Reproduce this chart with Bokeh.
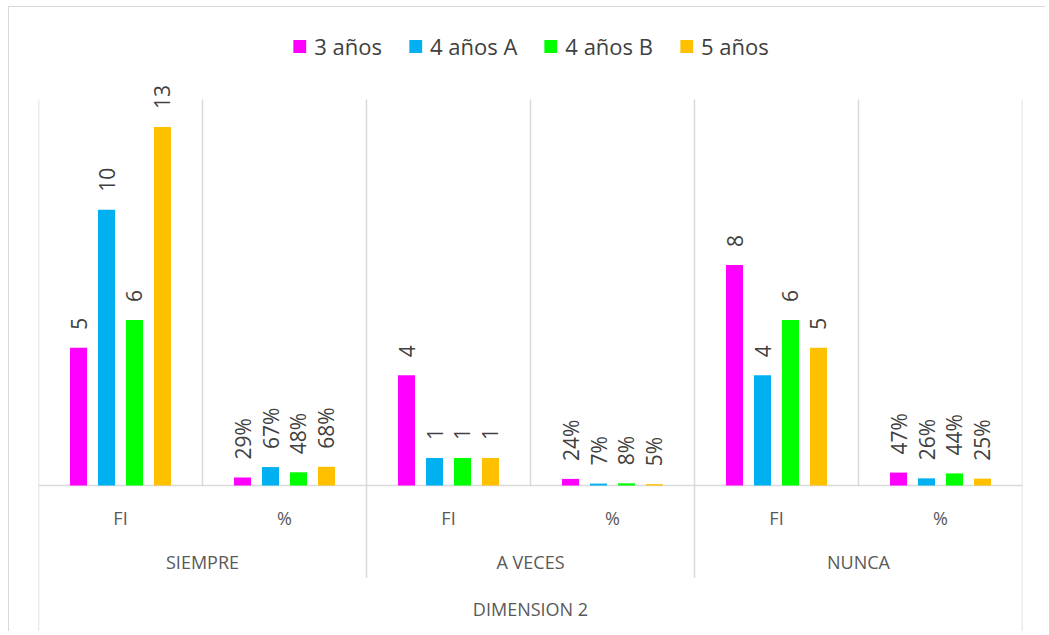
from math import pi
from bokeh.plotting import figure
from bokeh.models import ColumnDataSource, FactorRange, Range1d
from bokeh.transform import dodge
from bokeh.core.properties import value
from bokeh.embed import file_html
from bokeh.resources import INLINE

# ---------------- data ----------------
groups = ["SIEMPRE", "A VECES", "NUNCA"]
measures = ["FI", "%"]
series = ["3 años", "4 años A", "4 años B", "5 años"]
colors = ["#FF00FF", "#00B0F0", "#00FF00", "#FFC000"]
axis_title = "DIMENSION 2"

fi_3 = [5, 4, 8]
fi_4a = [10, 1, 4]
fi_4b = [6, 1, 6]
fi_5 = [13, 1, 5]

pct_3 = [0.29, 0.24, 0.47]
pct_4a = [0.67, 0.07, 0.26]
pct_4b = [0.48, 0.08, 0.44]
pct_5 = [0.68, 0.05, 0.25]

fi_all = [fi_3, fi_4a, fi_4b, fi_5]
pct_all = [pct_3, pct_4a, pct_4b, pct_5]

# ---------------- layout constants ----------------
Y_MAX = 14
Y_TOP = 17.337
Y_BOTTOM = -5.33
Y_MEASURE = -1.16
Y_GROUP = -2.79
Y_TITLE = -4.46
Y_GROUP_LINE = -3.34
STEP = 0.1707
BAR_W = 0.104
GRID = "#d9d9d9"
FONT = "Open Sans"

factors = [(g, m) for g in groups for m in measures]

x_range = FactorRange(factors=factors, factor_padding=0, group_padding=0,
                      subgroup_padding=0, range_padding=0)

p = figure(width=1037, height=625, x_range=x_range,
           y_range=Range1d(Y_BOTTOM, Y_TOP),
           x_axis_location=None, y_axis_location=None,
           output_backend="svg", toolbar_location=None,
           min_border_left=29, min_border_right=24,
           min_border_top=0, min_border_bottom=0)
p.grid.visible = False
p.outline_line_color = None
p.styles = {"margin-left": "8px", "margin-top": "6px",
            "border-left": "1px solid #d9d9d9", "border-top": "1px solid #d9d9d9"}

# ---------------- separators ----------------
sep_src = ColumnDataSource(dict(x=[(g, "FI") for g in groups]))
p.segment(x0=dodge("x", 0.5, range=p.x_range), y0=Y_MAX,
          x1=dodge("x", 0.5, range=p.x_range), y1=0,
          source=sep_src, line_color=GRID, line_width=1.5)

grp_src = ColumnDataSource(dict(x=[(g, "%") for g in groups[:-1]]))
p.segment(x0=dodge("x", 0.5, range=p.x_range), y0=Y_MAX,
          x1=dodge("x", 0.5, range=p.x_range), y1=Y_GROUP_LINE,
          source=grp_src, line_color=GRID, line_width=1.5)

left_src = ColumnDataSource(dict(x=[factors[0]]))
p.segment(x0=dodge("x", -0.5, range=p.x_range), y0=Y_MAX,
          x1=dodge("x", -0.5, range=p.x_range), y1=Y_BOTTOM,
          source=left_src, line_color=GRID, line_width=1.5)
right_src = ColumnDataSource(dict(x=[factors[-1]]))
p.segment(x0=dodge("x", 0.5, range=p.x_range), y0=Y_MAX,
          x1=dodge("x", 0.5, range=p.x_range), y1=Y_BOTTOM,
          source=right_src, line_color=GRID, line_width=1.5)

base_src = ColumnDataSource(dict(a=[factors[0]], b=[factors[-1]], y=[0]))
p.segment(x0=dodge("a", -0.5, range=p.x_range), y0="y",
          x1=dodge("b", 0.5, range=p.x_range), y1="y",
          source=base_src, line_color=GRID, line_width=1.5)

# ---------------- bars + labels ----------------
for k, (name, col) in enumerate(zip(series, colors)):
    tops, labels = [], []
    for i, g in enumerate(groups):
        tops.append(fi_all[k][i])
        labels.append(str(fi_all[k][i]))
        tops.append(pct_all[k][i])
        labels.append(f"{round(pct_all[k][i] * 100)}%")
    src = ColumnDataSource(dict(x=factors, top=tops, label=labels))
    off = (k - 1.5) * STEP
    p.vbar(x=dodge("x", off, range=p.x_range), top="top", width=BAR_W,
           source=src, fill_color=col, line_color=None, legend_label=name)
    p.text(x=dodge("x", off, range=p.x_range), y="top", text="label",
           source=src, angle=pi / 2, text_align="left", text_baseline="middle",
           y_offset=-18, text_font=value(FONT), text_font_size="21px",
           text_color="#404040")

# ---------------- category labels ----------------
m_src = ColumnDataSource(dict(x=factors, y=[Y_MEASURE] * len(factors),
                              t=[f[1] for f in factors]))
p.text(x="x", y="y", text="t", source=m_src, text_align="center",
       text_baseline="middle", text_font=value(FONT), text_font_size="18px",
       text_color="#595959")

g_src = ColumnDataSource(dict(x=[(g, "FI") for g in groups],
                              y=[Y_GROUP] * len(groups), t=groups))
p.text(x=dodge("x", 0.5, range=p.x_range), y="y", text="t", source=g_src,
       text_align="center", text_baseline="middle", text_font=value(FONT),
       text_font_size="18px", text_color="#595959")

t_src = ColumnDataSource(dict(x=[(groups[1], "FI")], y=[Y_TITLE], t=[axis_title]))
p.text(x=dodge("x", 0.5, range=p.x_range), y="y", text="t", source=t_src,
       text_align="center", text_baseline="middle", text_font=value(FONT),
       text_font_size="18px", text_color="#595959")

# ---------------- legend ----------------
lg = p.legend[0]
lg.location = "top"
lg.orientation = "horizontal"
lg.margin = 24
lg.padding = 0
lg.spacing = 25
lg.glyph_width = 16
lg.glyph_height = 16
lg.label_standoff = 7
lg.label_text_font = FONT
lg.label_text_font_size = "22px"
lg.label_text_color = "#404040"
lg.border_line_color = None
lg.background_fill_alpha = 0

open("out.html", "w").write(file_html(p, INLINE))
